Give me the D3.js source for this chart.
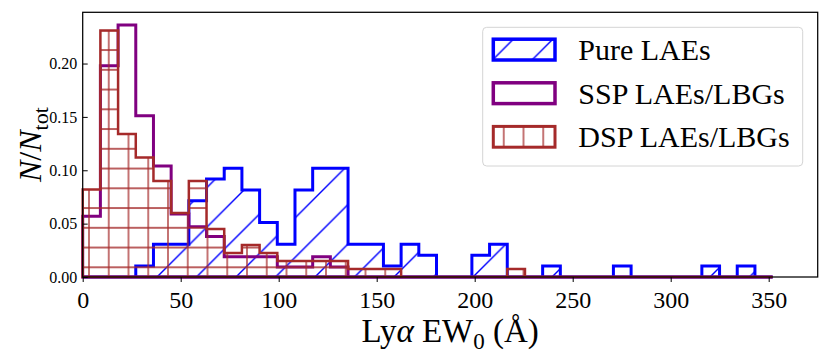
<!DOCTYPE html>
<html>
<head>
<meta charset="utf-8">
<script src="https://cdn.jsdelivr.net/npm/d3@7/dist/d3.min.js"></script>
<style>
  body { margin: 0; background: #fff; }
  text { font-family: "Liberation Serif", "DejaVu Serif", serif; }
</style>
</head>
<body>
<div id="chart"></div>
<script>
// 1: DATA (N/N_tot per bin, bins of equal width from 0 to 352 A)
const EW_MAX = 352, N_BINS = 39;
const binEdges = d3.range(N_BINS + 1).map(i => i * EW_MAX / N_BINS);

const pureLAEs = [0, 0, 0, 0.0102, 0.0306, 0.0306, 0.0714, 0.0918, 0.102, 0.0816,
                  0.051, 0.0306, 0.0816, 0.102, 0.102, 0.0306, 0.0306, 0.0102, 0.0306, 0.0204,
                  0, 0, 0.0204, 0.0306, 0, 0, 0.0102, 0, 0, 0,
                  0.0102, 0, 0, 0, 0, 0.0102, 0, 0.0102, 0];
const sspLAEs = [0.057, 0.198, 0.236, 0.151, 0.104, 0.059, 0.047, 0.038, 0.019, 0.019,
                 0.019, 0.0094, 0.0094, 0.019, 0.0094, 0, 0, 0, 0, 0,
                 0, 0, 0, 0, 0, 0, 0, 0, 0, 0,
                 0, 0, 0, 0, 0, 0, 0, 0, 0];
const dspLAEs = [0.082, 0.231, 0.134, 0.112, 0.090, 0.060, 0.090, 0.045, 0.0224, 0.030,
                 0.0224, 0.015, 0.015, 0.015, 0.015, 0.0075, 0.0075, 0.0075, 0, 0,
                 0, 0, 0, 0, 0.0075, 0, 0, 0, 0, 0,
                 0, 0, 0, 0, 0, 0, 0, 0, 0];

const seriesNames = ["Pure LAEs", "SSP LAEs/LBGs", "DSP LAEs/LBGs"];
const xTicks = [0, 50, 100, 150, 200, 250, 300, 350];
const yTicks = [0, 0.05, 0.10, 0.15, 0.20];

// 2: LAYOUT
const W = 830, H = 356;
const serif = '"Liberation Serif", "DejaVu Serif", serif';
const margin = { top: 12.3, right: 12.3, bottom: 79, left: 82.7 },
      width = W - margin.left - margin.right,
      height = H - margin.top - margin.bottom;

const svg = d3.select("#chart")
    .append("svg")
    .attr("width", W)
    .attr("height", H);

const g = svg.append("g")
    .attr("transform", `translate(${margin.left},${margin.top})`);

// 3: SCALES
const x = d3.scaleLinear().domain([0, 375]).range([0, width]);
const y = d3.scaleLinear().domain([0, 0.248]).range([height, 0]);

// 4: HATCH PATTERNS (aligned to the canvas like matplotlib hatches)
const defs = svg.append("defs");
const sDiag = 39.5, sGrid = 19.75;

const pBlue = defs.append("pattern")
    .attr("id", "hatchBlue")
    .attr("patternUnits", "userSpaceOnUse")
    .attr("x", 299.5).attr("y", 0)
    .attr("width", sDiag).attr("height", sDiag);
pBlue.append("path")
    .attr("d", `M0,${sDiag}L${sDiag},0M-2,2L2,-2M${sDiag - 2},${sDiag + 2}L${sDiag + 2},${sDiag - 2}`)
    .attr("stroke", "#0000ff")
    .attr("stroke-width", 1.4);

const pBrown = defs.append("pattern")
    .attr("id", "hatchBrown")
    .attr("patternUnits", "userSpaceOnUse")
    .attr("x", 6.3 - sGrid / 2).attr("y", 255 - sGrid / 2)
    .attr("width", sGrid).attr("height", sGrid);
pBrown.append("path")
    .attr("d", `M${sGrid / 2},0V${sGrid}M0,${sGrid / 2}H${sGrid}`)
    .attr("stroke", "#a52a2a")
    .attr("stroke-width", 1.3);

const pBrownLeg = defs.append("pattern")
    .attr("id", "hatchBrownLeg")
    .attr("patternUnits", "userSpaceOnUse")
    .attr("x", 6.3 - sGrid / 2).attr("y", 0)
    .attr("width", sGrid).attr("height", sGrid);
pBrownLeg.append("path")
    .attr("d", `M${sGrid / 2},0V${sGrid}`)
    .attr("stroke", "#a52a2a")
    .attr("stroke-width", 1.3);

// 5: STEP HISTOGRAMS
const series = [
    { name: seriesNames[0], values: pureLAEs, color: "#0000ff", fill: "url(#hatchBlue)", legFill: "url(#hatchBlue)", lw: 3 },
    { name: seriesNames[1], values: sspLAEs, color: "#800080", fill: "none", legFill: "none", lw: 3 },
    { name: seriesNames[2], values: dspLAEs, color: "#a52a2a", fill: "url(#hatchBrown)", legFill: "url(#hatchBrownLeg)", lw: 2.5 }
];

const stepPoints = values => {
    const pts = [[binEdges[0], 0]];
    values.forEach((v, i) => {
        pts.push([binEdges[i], v]);
        pts.push([binEdges[i + 1], v]);
    });
    pts.push([binEdges[values.length], 0]);
    return pts;
};

const stepLine = d3.line()
    .x(d => x(d[0]))
    .y(d => y(d[1]))
    .curve(d3.curveLinearClosed);

g.selectAll("path.hist")
    .data(series)
    .enter()
    .append("path")
    .attr("class", "hist")
    .attr("d", d => stepLine(stepPoints(d.values)))
    .attr("fill", d => d.fill)
    .attr("stroke", d => d.color)
    .attr("stroke-width", d => d.lw)
    .attr("stroke-linejoin", "miter");

// 6: AXES
const xAxis = g.append("g")
    .attr("transform", `translate(0,${height})`)
    .call(d3.axisBottom(x).tickValues(xTicks).tickSize(5).tickSizeOuter(0).tickPadding(9).tickFormat(d3.format("d")));
xAxis.attr("font-family", serif);
xAxis.select(".domain").remove();
xAxis.selectAll("text").style("font-family", serif).style("font-size", "24px").attr("fill", "#000");
xAxis.selectAll("line").attr("stroke", "#000").attr("stroke-width", 1);

const yAxis = g.append("g")
    .call(d3.axisLeft(y).tickValues(yTicks).tickSize(-5).tickSizeOuter(0).tickPadding(5.5).tickFormat(d3.format(".2f")));
yAxis.attr("font-family", serif);
yAxis.select(".domain").remove();
yAxis.selectAll("text").style("font-family", serif).style("font-size", "16px").attr("fill", "#000");
yAxis.selectAll("line").attr("stroke", "#000").attr("stroke-width", 1);

g.append("rect")
    .attr("width", width)
    .attr("height", height)
    .attr("fill", "none")
    .attr("stroke", "#000")
    .attr("stroke-width", 1.25);

// 7: LABELS
const xLabel = g.append("text")
    .attr("x", width / 2)
    .attr("y", 342 - margin.top)
    .attr("text-anchor", "middle")
    .style("font-size", "33px");
xLabel.append("tspan").text("Ly");
xLabel.append("tspan").style("font-style", "italic").text("α");
xLabel.append("tspan").text(" EW");
xLabel.append("tspan").attr("dy", 7).style("font-size", "23px").text("0");
xLabel.append("tspan").attr("dy", -7).text(" (Å)");

const yLabel = g.append("text")
    .attr("transform", `translate(${41 - margin.left},${height / 2}) rotate(-90)`)
    .attr("text-anchor", "middle")
    .style("font-size", "32px");
yLabel.append("tspan").style("font-style", "italic").text("N");
yLabel.append("tspan").text("/");
yLabel.append("tspan").style("font-style", "italic").text("N");
yLabel.append("tspan").attr("dy", 7).style("font-size", "22px").text("tot");

// 8: LEGEND
const legX = 482.7 - margin.left, legY = 27.3 - margin.top;
g.append("rect")
    .attr("x", legX)
    .attr("y", legY)
    .attr("width", 320)
    .attr("height", 138.7)
    .attr("rx", 4)
    .attr("fill", "#fff")
    .attr("fill-opacity", 0.8)
    .attr("stroke", "#d4d4d4")
    .attr("stroke-width", 1);

const legend = g.selectAll(".legend")
    .data(series)
    .enter()
    .append("g")
    .attr("class", "legend")
    .attr("transform", (d, i) => `translate(0, ${i * 43.6})`);

legend.append("rect")
    .attr("x", 493.3 - margin.left)
    .attr("y", 39.2 - margin.top)
    .attr("width", 61.7)
    .attr("height", 20.8)
    .attr("fill", d => d.legFill)
    .attr("stroke", d => d.color)
    .attr("stroke-width", d => d.lw + 0.5);

legend.append("text")
    .attr("x", 578.3 - margin.left)
    .attr("y", 60 - margin.top)
    .style("font-size", "30px")
    .text(d => d.name);
</script>
</body>
</html>
